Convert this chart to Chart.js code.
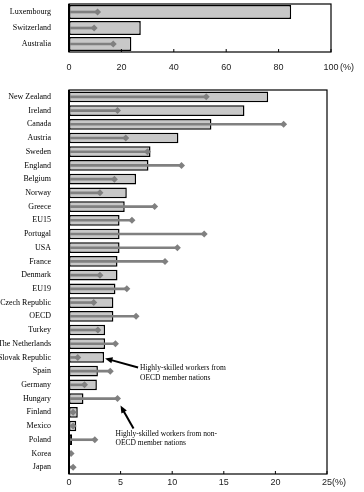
<!DOCTYPE html>
<html>
<head>
<meta charset="utf-8">
<script src="https://cdn.jsdelivr.net/npm/chart.js@4"></script>
<style>
  body { margin: 0; background: #fff; }
  .box { position: absolute; left: 0; width: 364px; }
  #topBox { top: 0; height: 80px; }
  #bottomBox { top: 80px; height: 412px; }
</style>
</head>
<body>
<div class="box" id="topBox"><canvas id="topChart"></canvas></div>
<div class="box" id="bottomBox"><canvas id="bottomChart"></canvas></div>
<script>
// Paises con porcentaje alto (panel superior, escala 0-100)
const topCountries = ['Luxembourg', 'Switzerland', 'Australia'];
const topOecd = [84.8, 27.4, 23.8];
const topNonOecd = [10.9, 9.6, 16.9];
const topTicks = [0, 20, 40, 60, 80, 100];

// Resto de paises (panel inferior, escala 0-25)
const countries = ['New Zealand', 'Ireland', 'Canada', 'Austria', 'Sweden', 'England', 'Belgium',
  'Norway', 'Greece', 'EU15', 'Portugal', 'USA', 'France', 'Denmark', 'EU19', 'Czech Republic',
  'OECD', 'Turkey', 'The Netherlands', 'Slovak Republic', 'Spain', 'Germany', 'Hungary',
  'Finland', 'Mexico', 'Poland', 'Korea', 'Japan'];
const oecdShare = [19.3, 17.0, 13.8, 10.6, 7.9, 7.7, 6.5, 5.6, 5.4, 4.9, 4.9, 4.9, 4.7, 4.7,
  4.5, 4.3, 4.3, 3.5, 3.5, 3.4, 2.8, 2.7, 1.4, 0.85, 0.7, 0.3, 0.05, 0.05];
const nonOecdShare = [13.3, 4.7, 20.8, 5.5, 7.6, 10.9, 4.4, 3.0, 8.3, 6.1, 13.1, 10.5, 9.3, 3.0,
  5.6, 2.4, 6.5, 2.8, 4.5, 0.85, 4.0, 1.5, 4.7, 0.4, 0.4, 2.5, 0.2, 0.4];
const bottomTicks = [0, 5, 10, 15, 20, 25];

const labelFont = { family: '"Liberation Serif", serif', size: 8 };
const tickFont = { family: '"Liberation Sans", sans-serif', size: 9 };
const grey = '#808080';

// Marco, marcas hacia dentro y la unidad (%)
const framePlugin = {
  id: 'frame',
  afterDatasetsDraw(chart, args, opts) {
    const { ctx, chartArea: a, scales: { x } } = chart;
    ctx.save();
    ctx.strokeStyle = '#000';
    ctx.lineWidth = 1.2;
    ctx.strokeRect(a.left, a.top, a.right - a.left, a.bottom - a.top);
    ctx.lineWidth = 2;
    ctx.beginPath();
    ctx.moveTo(a.left, a.top);
    ctx.lineTo(a.left, a.bottom);
    ctx.stroke();
    ctx.lineWidth = 1;
    x.ticks.forEach(t => {
      const px = x.getPixelForValue(t.value);
      ctx.beginPath();
      ctx.moveTo(px, a.bottom);
      ctx.lineTo(px, a.bottom - 3);
      ctx.stroke();
    });
    ctx.font = '9px "Liberation Sans", sans-serif';
    ctx.fillStyle = '#222';
    ctx.textBaseline = 'middle';
    ctx.fillText('(%)', a.right + opts.unitGap, a.bottom + opts.unitDy);
    ctx.restore();
  }
};

function arrow(ctx, x1, y1, x2, y2) {
  const ang = Math.atan2(y2 - y1, x2 - x1);
  const len = 8;
  ctx.beginPath();
  ctx.moveTo(x1, y1);
  ctx.lineTo(x2 - Math.cos(ang) * len * 0.7, y2 - Math.sin(ang) * len * 0.7);
  ctx.stroke();
  ctx.beginPath();
  ctx.moveTo(x2, y2);
  ctx.lineTo(x2 - len * Math.cos(ang - 0.4), y2 - len * Math.sin(ang - 0.4));
  ctx.lineTo(x2 - len * Math.cos(ang + 0.4), y2 - len * Math.sin(ang + 0.4));
  ctx.closePath();
  ctx.fill();
}

// Flechas y textos explicativos
const notePlugin = {
  id: 'notes',
  afterDraw(chart) {
    const { ctx, scales: { x, y } } = chart;
    const iSlovak = countries.indexOf('Slovak Republic');
    const iHungary = countries.indexOf('Hungary');
    const tip1x = x.getPixelForValue(oecdShare[iSlovak]) + 1;
    const tip1y = y.getPixelForValue(iSlovak) + 1;
    const tip2x = x.getPixelForValue(nonOecdShare[iHungary]) + 3;
    const tip2y = y.getPixelForValue(iHungary) + 7;
    ctx.save();
    ctx.strokeStyle = '#000';
    ctx.fillStyle = '#000';
    ctx.lineWidth = 2;
    arrow(ctx, tip1x + 33, tip1y + 9, tip1x, tip1y);
    arrow(ctx, tip2x + 13, tip2y + 23, tip2x, tip2y);
    ctx.font = '7.5px "Liberation Serif", serif';
    ctx.textBaseline = 'middle';
    ctx.fillText('Highly-skilled workers from', tip1x + 35, tip1y + 10);
    ctx.fillText('OECD member nations', tip1x + 35, tip1y + 20);
    ctx.fillText('Highly-skilled workers from non-', tip2x - 5, tip2y + 28);
    ctx.fillText('OECD member nations', tip2x - 5, tip2y + 37);
    ctx.restore();
  }
};

function makeChart(id, labels, bars, marks, ticks, max, opt) {
  return new Chart(document.getElementById(id), {
    type: 'bar',
    data: {
      labels: labels,
      datasets: [
        {
          type: 'line',
          indexAxis: 'y',
          data: marks,
          showLine: false,
          pointStyle: 'rectRot',
          pointRadius: 3.5,
          pointBackgroundColor: grey,
          pointBorderWidth: 0,
          order: 0
        },
        {
          indexAxis: 'y',
          data: marks.map(v => [0, v]),
          backgroundColor: grey,
          borderWidth: 0,
          barThickness: 2,
          grouped: false,
          order: 1
        },
        {
          indexAxis: 'y',
          data: bars,
          backgroundColor: '#c8c8c8',
          borderColor: '#000',
          borderWidth: 1.5,
          borderSkipped: false,
          barPercentage: opt.barPct,
          categoryPercentage: 1,
          grouped: false,
          order: 2
        }
      ]
    },
    options: {
      indexAxis: 'y',
      responsive: true,
      maintainAspectRatio: false,
      animation: false,
      layout: { padding: { top: opt.top, right: opt.right, left: 0, bottom: 0 } },
      plugins: {
        legend: { display: false },
        tooltip: { enabled: false },
        frame: { unitGap: opt.unitGap, unitDy: opt.unitDy }
      },
      scales: {
        x: {
          min: 0,
          max: max,
          afterBuildTicks: s => { s.ticks = ticks.map(v => ({ value: v })); },
          afterFit: s => { s.height = opt.axisH; s.paddingLeft = 0; s.paddingRight = 0; },
          grid: { display: false, drawTicks: false },
          border: { display: false },
          ticks: { font: tickFont, color: '#222', padding: opt.tickPad, maxRotation: 0 }
        },
        y: {
          afterFit: s => { s.width = 69; s.paddingTop = 0; s.paddingBottom = 0; },
          grid: { display: false, drawTicks: false },
          border: { display: false },
          ticks: { font: labelFont, color: '#000', padding: 18, autoSkip: false }
        }
      }
    },
    plugins: opt.plugins
  });
}

makeChart('topChart', topCountries, topOecd, topNonOecd, topTicks, 100,
  { barPct: 0.88, top: 1, right: 33, axisH: 28, tickPad: 10, unitGap: 9, unitDy: 16, plugins: [framePlugin] });

makeChart('bottomChart', countries, oecdShare, nonOecdShare, bottomTicks, 25,
  { barPct: 0.78, top: 10, right: 37, axisH: 18, tickPad: 3, unitGap: 5, unitDy: 9, plugins: [framePlugin, notePlugin] });
</script>
</body>
</html>
